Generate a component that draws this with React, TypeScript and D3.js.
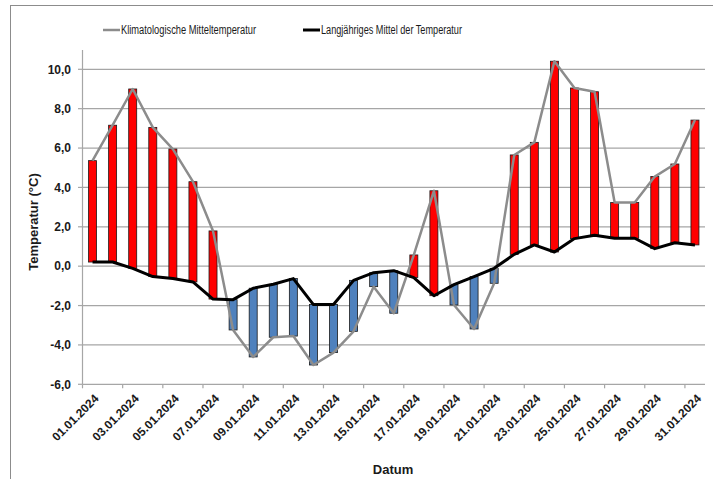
import React from 'react';
import * as d3 from 'd3';

const dates = [
  '01.01.2024', '02.01.2024', '03.01.2024', '04.01.2024', '05.01.2024', '06.01.2024',
  '07.01.2024', '08.01.2024', '09.01.2024', '10.01.2024', '11.01.2024', '12.01.2024',
  '13.01.2024', '14.01.2024', '15.01.2024', '16.01.2024', '17.01.2024', '18.01.2024',
  '19.01.2024', '20.01.2024', '21.01.2024', '22.01.2024', '23.01.2024', '24.01.2024',
  '25.01.2024', '26.01.2024', '27.01.2024', '28.01.2024', '29.01.2024', '30.01.2024',
  '31.01.2024',
];

// Klimatologische Mitteltemperatur (graue Linie)
const klimaMittel = [
  5.36, 7.16, 9.0, 7.05, 5.95, 4.29, 1.79, -3.24, -4.61, -3.61, -3.55, -5.02, -4.39,
  -3.31, -1.04, -2.39, 0.57, 3.83, -1.97, -3.19, -0.87, 5.65, 6.29, 10.41, 9.05, 8.86,
  3.23, 3.23, 4.55, 5.19, 7.42,
];

// Langjähriges Mittel der Temperatur (schwarze Linie)
const langMittel = [
  0.21, 0.21, -0.11, -0.53, -0.63, -0.8, -1.67, -1.7, -1.12, -0.92, -0.63, -1.95, -1.95,
  -0.72, -0.33, -0.23, -0.58, -1.5, -0.94, -0.53, -0.11, 0.6, 1.08, 0.72, 1.4, 1.57,
  1.42, 1.42, 0.89, 1.19, 1.08,
];

const yTicks = [-6, -4, -2, 0, 2, 4, 6, 8, 10];
const xLabelDates = dates.filter((_, i) => i % 2 === 0);

const W = 713;
const H = 479;
const font = '"Liberation Sans", Arial, sans-serif';

const App: React.FC = () => {
  const x = d3.scaleBand<string>().domain(dates).range([82.5, 705]).padding(0);
  const y = d3.scaleLinear().domain([-6, 10]).range([384.3, 69.3]);
  const cx = (d: string) => (x(d) ?? 0) + x.bandwidth() / 2;
  const barW = 8;

  const line = d3
    .line<number>()
    .x((_, i) => cx(dates[i]))
    .y((v) => y(v));

  const fmt = (v: number) => v.toFixed(1).replace('.', ',');

  return (
    <svg
      width={W}
      height={H}
      style={{ position: 'absolute', left: 0, top: 0, background: '#fff' }}
      fontFamily={font}
    >
      <rect x={10.5} y={5.5} width={720} height={500} fill="#fff" stroke="#8c8c8c" strokeWidth={1} />

      {/* Gitterlinien */}
      {yTicks.filter((t) => t > -6).map((t) => (
        <line key={t} x1={82.5} x2={705} y1={y(t)} y2={y(t)} stroke="#a6a6a6" strokeWidth={1.2} />
      ))}

      {/* Achsen */}
      <line x1={82.5} x2={82.5} y1={50} y2={y(-6)} stroke="#a6a6a6" strokeWidth={1.2} />
      <line x1={82.5} x2={705} y1={y(-6)} y2={y(-6)} stroke="#a6a6a6" strokeWidth={1.2} />
      {yTicks.map((t) => (
        <g key={t}>
          <line x1={78} x2={82.5} y1={y(t)} y2={y(t)} stroke="#a6a6a6" strokeWidth={1.2} />
          <text x={71} y={y(t)} dy="0.35em" textAnchor="end" fontSize={12} fontWeight="bold" fill="#1a1a1a">
            {fmt(t)}
          </text>
        </g>
      ))}
      {xLabelDates.map((d) => (
        <g key={d}>
          <line x1={x(d)} x2={x(d)} y1={y(-6)} y2={y(-6) + 4} stroke="#a6a6a6" strokeWidth={1.2} />
          <text
            transform={`translate(${cx(d) + 4},${y(-6) + 12}) rotate(-45)`}
            textAnchor="end"
            dy="0.35em"
            fontSize={12}
            fontWeight="bold"
            fill="#1a1a1a"
          >
            {d}
          </text>
        </g>
      ))}

      {/* Abweichungsbalken */}
      {dates.map((d, i) => {
        const a = klimaMittel[i];
        const b = langMittel[i];
        const top = y(Math.max(a, b));
        const bottom = y(Math.min(a, b));
        return (
          <rect
            key={d}
            x={cx(d) - barW / 2}
            y={top}
            width={barW}
            height={bottom - top}
            fill={a >= b ? '#ff0000' : '#4f81bd'}
            stroke="#1a1a1a"
            strokeWidth={0.8}
          />
        );
      })}

      {/* Linien */}
      <path d={line(klimaMittel) ?? ''} fill="none" stroke="#8c8c8c" strokeWidth={2.5} strokeLinejoin="round" />
      <path d={line(langMittel) ?? ''} fill="none" stroke="#000" strokeWidth={3} strokeLinejoin="round" />

      {/* Achsentitel */}
      <text
        transform={`translate(38,222) rotate(-90)`}
        textAnchor="middle"
        fontSize={13}
        fontWeight="bold"
        fill="#1a1a1a"
      >
        Temperatur (°C)
      </text>
      <text x={393} y={474} textAnchor="middle" fontSize={13} fontWeight="bold" fill="#1a1a1a">
        Datum
      </text>

      {/* Legende */}
      <line x1={103} x2={120} y1={30} y2={30} stroke="#8c8c8c" strokeWidth={2.5} />
      <text x={121} y={34} fontSize={12} fill="#1a1a1a" textLength={135} lengthAdjust="spacingAndGlyphs">
        Klimatologische Mitteltemperatur
      </text>
      <line x1={303} x2={320} y1={30} y2={30} stroke="#000" strokeWidth={3} />
      <text x={321} y={34} fontSize={12} fill="#1a1a1a" textLength={141} lengthAdjust="spacingAndGlyphs">
        Langjähriges Mittel der Temperatur
      </text>
    </svg>
  );
};

export default App;
